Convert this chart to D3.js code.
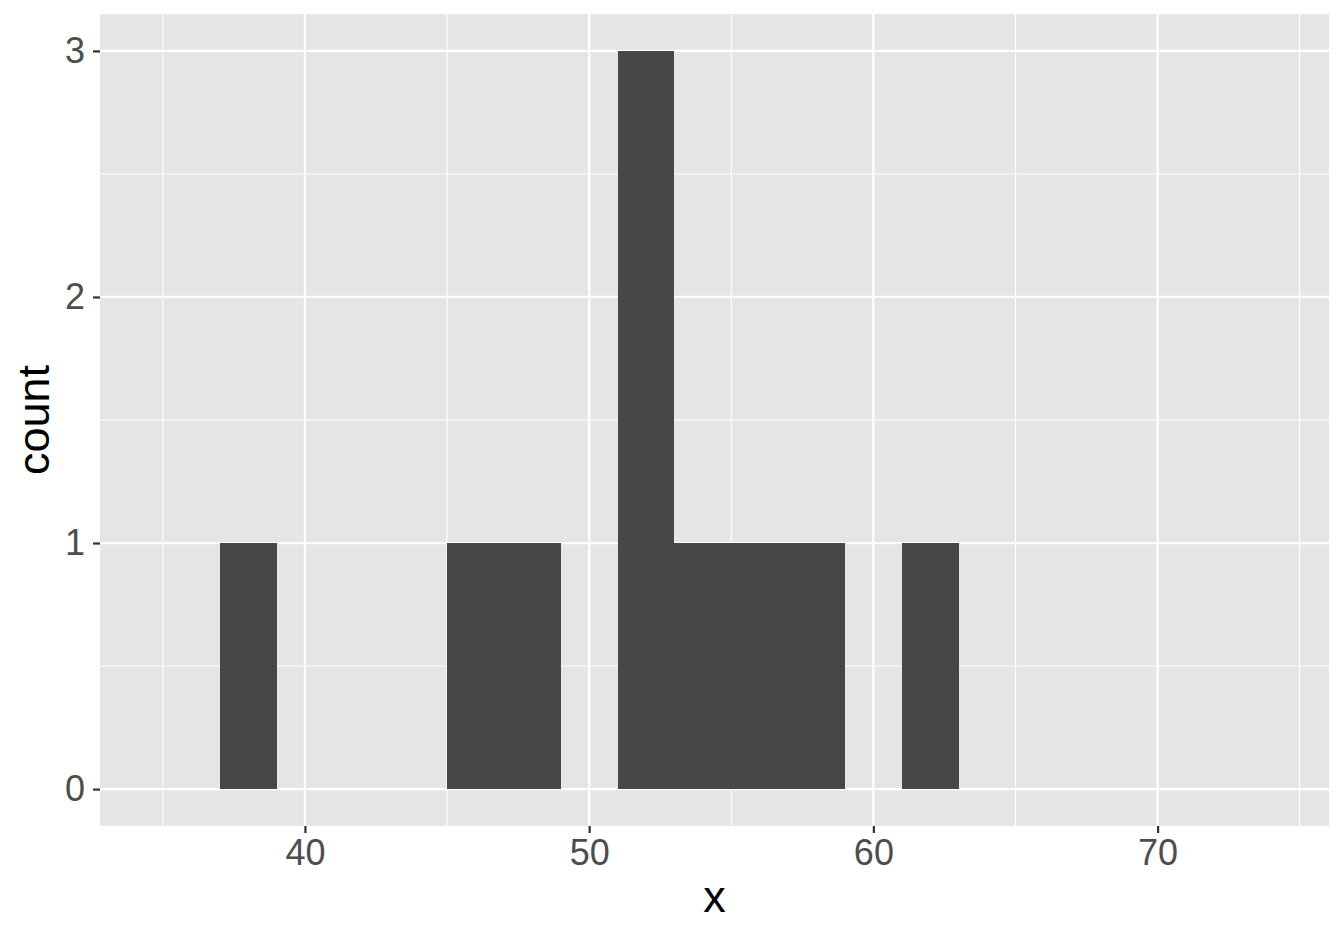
<!DOCTYPE html>
<html><head><meta charset="utf-8">
<script src="https://cdn.jsdelivr.net/npm/d3@7"></script>
<style>body{margin:0;background:#fff}</style>
</head><body>
<script>
const binStarts = [37, 45, 47, 51, 53, 55, 57, 61];
const counts    = [1, 1, 1, 3, 1, 1, 1, 1];
const binWidth = 2;
const xTicks = [40, 50, 60, 70];
const xMinor = [35, 45, 55, 65, 75];
const yTicks = [0, 1, 2, 3];
const yMinor = [0.5, 1.5, 2.5];

const W = 1344, H = 940;
const L = 100, R = 1329, T = 14, B = 826;
const FONT = "Liberation Sans, Arial, Helvetica, sans-serif";
const svg = d3.select("body").append("svg").attr("width", W).attr("height", H);
const x = d3.scaleLinear().domain([32.79, 76.03]).range([L, R]);
const y = d3.scaleLinear().domain([-0.15, 3.15]).range([B, T]);

svg.append("rect").attr("x", L).attr("y", T).attr("width", R - L).attr("height", B - T).attr("fill", "#e5e5e5");
const g = svg.append("g");
g.selectAll(".xmin").data(xMinor).join("line").attr("x1", d => x(d)).attr("x2", d => x(d)).attr("y1", T).attr("y2", B).attr("stroke", "#fff").attr("stroke-width", 1.1);
g.selectAll(".ymin").data(yMinor).join("line").attr("y1", d => y(d)).attr("y2", d => y(d)).attr("x1", L).attr("x2", R).attr("stroke", "#fff").attr("stroke-width", 1.1);
g.selectAll(".xmaj").data(xTicks).join("line").attr("x1", d => x(d)).attr("x2", d => x(d)).attr("y1", T).attr("y2", B).attr("stroke", "#fff").attr("stroke-width", 2.2);
g.selectAll(".ymaj").data(yTicks).join("line").attr("y1", d => y(d)).attr("y2", d => y(d)).attr("x1", L).attr("x2", R).attr("stroke", "#fff").attr("stroke-width", 2.2);

svg.selectAll(".bar").data(binStarts).join("rect")
  .attr("x", d => x(d)).attr("width", d => x(d + binWidth) - x(d))
  .attr("y", (d, i) => y(counts[i])).attr("height", (d, i) => y(0) - y(counts[i]))
  .attr("fill", "#474747").attr("shape-rendering", "crispEdges");

const xAxis = svg.append("g").attr("transform", `translate(0,${B})`)
  .call(d3.axisBottom(x).tickValues(xTicks).tickFormat(d3.format("d")).tickSize(7).tickPadding(6));
const yAxis = svg.append("g").attr("transform", `translate(${L},0)`)
  .call(d3.axisLeft(y).tickValues(yTicks).tickFormat(d3.format("d")).tickSize(7).tickPadding(8));
[xAxis, yAxis].forEach(a => {
  a.attr("font-size", null).attr("font-family", null);
  a.select(".domain").remove();
  a.selectAll(".tick line").attr("stroke", "#333").attr("stroke-width", 2.2);
  a.selectAll(".tick text").attr("fill", "#4d4d4d").attr("font-family", FONT).attr("font-size", 36);
});

svg.append("text").attr("x", (L + R) / 2).attr("y", 912).attr("text-anchor", "middle")
  .attr("font-family", FONT).attr("font-size", 45).attr("fill", "#000").text("x");
svg.append("text").attr("transform", `translate(49,${(T + B) / 2}) rotate(-90)`).attr("text-anchor", "middle")
  .attr("font-family", FONT).attr("font-size", 45).attr("fill", "#000").text("count");
</script>
</body></html>
